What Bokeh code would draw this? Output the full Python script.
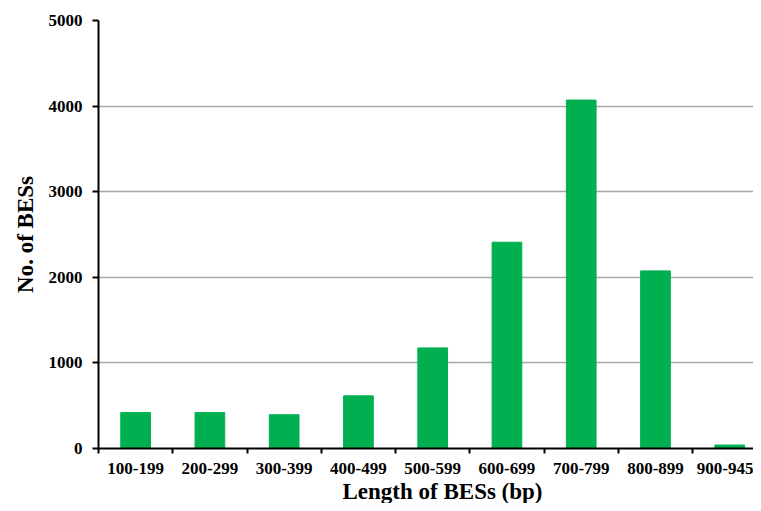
from bokeh.plotting import figure
from bokeh.models import FixedTicker, Range1d, ColumnDataSource, Title
from bokeh.embed import file_html
from bokeh.resources import INLINE

categories = ["100-199", "200-299", "300-399", "400-499", "500-599",
              "600-699", "700-799", "800-899", "900-945"]
counts = [420, 420, 395, 615, 1175, 2410, 4070, 2075, 40]
y_ticks = [0, 1000, 2000, 3000, 4000, 5000]
x_title = "Length of BESs (bp)"
y_title = "No. of BESs"

centers = [i + 0.5 for i in range(len(categories))]
bounds = list(range(len(categories) + 1))

src = ColumnDataSource(dict(x=centers, top=counts, cat=categories))

p = figure(width=753, height=503, output_backend="svg", toolbar_location=None,
           x_range=Range1d(0, 8.82), y_range=Range1d(0, 5000),
           min_border_left=98, min_border_right=0, min_border_top=20,
           min_border_bottom=0)
p.outline_line_color = None
p.background_fill_color = "white"

p.vbar(x="x", top="top", width=0.4, source=src, color="#00B050", line_color="#00B050")

FONT = "Liberation Serif"
# x axis
p.xaxis.ticker = FixedTicker(ticks=centers, minor_ticks=bounds)
p.xaxis.major_label_overrides = {c: lab for c, lab in zip(centers, categories)}
p.xaxis.major_tick_out = 0
p.xaxis.major_tick_in = 0
p.xaxis.minor_tick_out = 5
p.xaxis.minor_tick_in = 0
p.xaxis.minor_tick_line_color = "black"
p.xaxis.minor_tick_line_width = 2
p.xaxis.axis_line_width = 2
p.xaxis.axis_line_color = "black"
p.xaxis.major_label_text_font = FONT
p.xaxis.major_label_text_font_style = "bold"
p.xaxis.major_label_text_font_size = "17px"
p.xaxis.major_label_text_color = "black"
p.xaxis.major_label_standoff = 9

# x-axis title below the tick labels
p.add_layout(Title(text=x_title, align="left", offset=244, standoff=0,
                   text_font=FONT, text_font_style="bold", text_font_size="23px",
                   text_color="black"), "below")

# y axis
p.yaxis.ticker = FixedTicker(ticks=y_ticks)
p.yaxis.minor_tick_line_color = None
p.yaxis.major_tick_out = 6
p.yaxis.major_tick_in = 0
p.yaxis.major_tick_line_width = 2
p.yaxis.axis_line_width = 2
p.yaxis.axis_line_color = "black"
p.yaxis.major_label_text_font = FONT
p.yaxis.major_label_text_font_style = "bold"
p.yaxis.major_label_text_font_size = "17px"
p.yaxis.major_label_text_color = "black"
p.yaxis.major_label_standoff = 10
p.yaxis.axis_label = y_title
p.yaxis.axis_label_text_font = FONT
p.yaxis.axis_label_text_font_style = "bold"
p.yaxis.axis_label_text_font_size = "23px"
p.yaxis.axis_label_text_color = "black"
p.yaxis.axis_label_standoff = 8

p.xgrid.grid_line_color = None
p.ygrid.grid_line_color = "#A6A6A6"
p.ygrid.grid_line_width = 1.5

open("out.html", "w").write(file_html(p, INLINE))
